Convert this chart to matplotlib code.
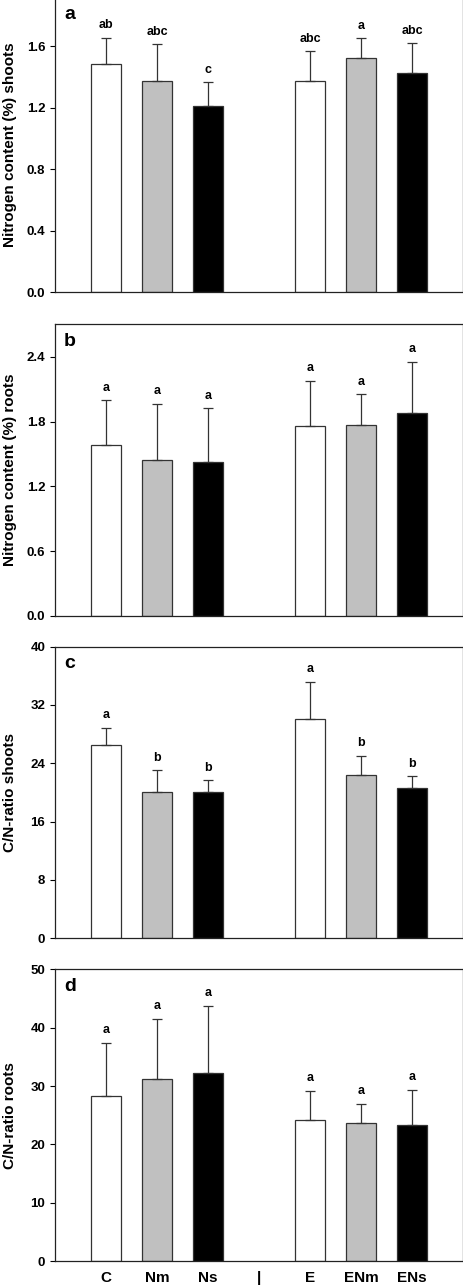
import matplotlib
matplotlib.use('Agg')
import matplotlib.pyplot as plt

plt.rcParams['font.family'] = ['Liberation Sans', 'DejaVu Sans']
plt.rcParams['font.weight'] = 'bold'

# treatment groups (a gap sits at position 3 between the two sets)
groups = ['C', 'Nm', 'Ns', '|', 'E', 'ENm', 'ENs']
positions = [0, 1, 2, 4, 5, 6]
colors = ['white', '#c0c0c0', 'black', 'white', '#c0c0c0', 'black']

# panel a: nitrogen content shoots
n_shoots = [1.485, 1.370, 1.214, 1.370, 1.520, 1.422]
n_shoots_err = [0.169, 0.241, 0.150, 0.197, 0.130, 0.198]
n_shoots_sig = ['ab', 'abc', 'c', 'abc', 'a', 'abc']

# panel b: nitrogen content roots
n_roots = [1.583, 1.445, 1.426, 1.759, 1.768, 1.882]
n_roots_err = [0.413, 0.520, 0.496, 0.419, 0.287, 0.472]
n_roots_sig = ['a', 'a', 'a', 'a', 'a', 'a']

# panel c: C/N ratio shoots
cn_shoots = [26.56, 20.11, 20.11, 30.03, 22.35, 20.62]
cn_shoots_err = [2.33, 2.93, 1.56, 5.17, 2.70, 1.60]
cn_shoots_sig = ['a', 'b', 'b', 'a', 'b', 'b']

# panel d: C/N ratio roots
cn_roots = [28.25, 31.28, 32.31, 24.20, 23.69, 23.34]
cn_roots_err = [9.19, 10.22, 11.47, 5.02, 3.31, 6.05]
cn_roots_sig = ['a', 'a', 'a', 'a', 'a', 'a']

panels = [
    ('a', n_shoots, n_shoots_err, n_shoots_sig, 'Nitrogen content (%) shoots', 1.913, [0, 0.4, 0.8, 1.2, 1.6], '{:.1f}'),
    ('b', n_roots, n_roots_err, n_roots_sig, 'Nitrogen content (%) roots', 2.7, [0, 0.6, 1.2, 1.8, 2.4], '{:.1f}'),
    ('c', cn_shoots, cn_shoots_err, cn_shoots_sig, 'C/N-ratio shoots', 40, [0, 8, 16, 24, 32, 40], '{:.0f}'),
    ('d', cn_roots, cn_roots_err, cn_roots_sig, 'C/N-ratio roots', 50, [0, 10, 20, 30, 40, 50], '{:.0f}'),
]

fig = plt.figure(figsize=(4.64, 12.86), dpi=100)
bottoms = [0.7727, 0.5210, 0.2704, 0.0192]
heights = [0.2289, 0.2268, 0.2268, 0.2271]

for (letter, vals, errs, sig, ylabel, ymax, yticks, fmt), b, h in zip(panels, bottoms, heights):
    ax = fig.add_axes([0.1185, b, 0.8793, h])
    ax.bar(positions, vals, width=0.6, color=colors, edgecolor='#333333', linewidth=0.9,
           yerr=[[0] * len(errs), errs], error_kw=dict(ecolor='#333333', elinewidth=0.9,
                                                    capsize=3.6, capthick=0.9))
    for x, v, e, s in zip(positions, vals, errs, sig):
        ax.annotate(s, (x, v + e), xytext=(0, 6.8), textcoords='offset points',
                    ha='center', va='baseline', fontsize=9, fontweight='bold')
    ax.set_xlim(-1, 7)
    ax.set_ylim(0, ymax)
    ax.set_yticks(yticks)
    ax.set_yticklabels([fmt.format(t) for t in yticks])
    ax.tick_params(axis='y', direction='out', length=3.5, width=0.8, pad=3.5, labelsize=9.5)
    ax.text(0.022, 0.927, letter, transform=ax.transAxes, fontsize=14, fontweight='bold',
            ha='left', va='baseline')
    ax.set_ylabel(ylabel, fontsize=11, fontweight='bold')
    ax.yaxis.set_label_coords(-0.094, 0.5)
    for sp in ax.spines.values():
        sp.set_linewidth(0.9)
        sp.set_color('#222222')
    if letter == 'd':
        ax.set_xticks(range(7))
        ax.set_xticklabels(groups, fontsize=11, fontweight='bold')
        ax.tick_params(axis='x', length=0, pad=7)
    else:
        ax.set_xticks([])

fig.savefig('out.png', dpi=100)
